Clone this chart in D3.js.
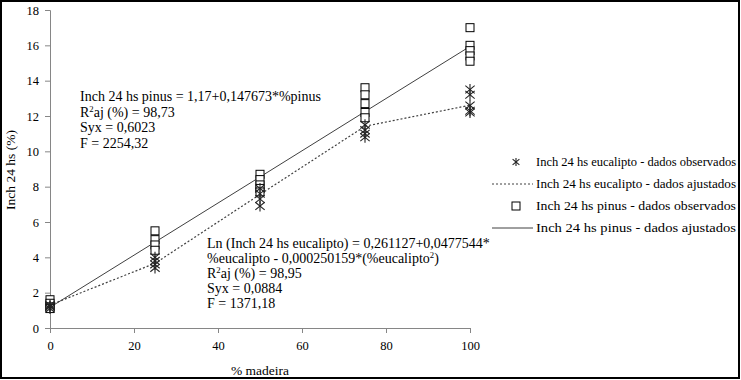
<!DOCTYPE html>
<html><head><meta charset="utf-8">
<script src="https://cdn.jsdelivr.net/npm/d3@7"></script>
<style>
body{margin:0;background:#fff;}
svg text{font-family:"Liberation Serif","DejaVu Serif",serif !important;}
</style></head>
<body><svg id="c" width="741" height="380"></svg>
<script>
const xLevels = [0, 25, 50, 75, 100];
const eucObs = [
  [1.3, 1.2, 1.1, 1.25],
  [4.0, 3.8, 3.6, 3.4],
  [7.9, 7.6, 7.3, 6.9],
  [11.5, 11.2, 10.8, 11.0],
  [13.5, 13.2, 12.6, 12.3, 12.2]
];
const pinObs = [
  [1.6, 1.4, 1.2, 1.1],
  [5.5, 5.0, 4.7, 4.4],
  [8.7, 8.4, 8.1, 7.9, 7.7],
  [13.6, 13.2, 12.7, 12.2, 11.9],
  [17.0, 16.0, 15.7, 15.4, 15.1]
];
const eucFit = [1.30, 3.66, 7.56, 11.42, 12.61];
const pinFit = [1.17, 4.86, 8.55, 12.25, 15.94];
const xTicks = [0, 20, 40, 60, 80, 100];
const yTicks = [0, 2, 4, 6, 8, 10, 12, 14, 16, 18];
const legendLabels = [
  "Inch 24 hs eucalipto - dados observados",
  "Inch 24 hs eucalipto - dados ajustados",
  "Inch 24 hs pinus - dados observados",
  "Inch 24 hs pinus - dados ajustados"
];

const svg = d3.select("#c");
svg.append("rect").attr("x",1).attr("y",1).attr("width",738).attr("height",377)
  .attr("fill","#fff").attr("stroke","#000").attr("stroke-width",2);

const x = d3.scaleLinear().domain([0,100]).range([50,470]);
const y = d3.scaleLinear().domain([0,18]).range([328,10]);
const axisColor = "#868686";

const gy = svg.append("g").attr("transform","translate(50,0)")
  .call(d3.axisLeft(y).tickValues(yTicks).tickSize(5).tickPadding(6));
const gx = svg.append("g").attr("transform","translate(0,328)")
  .call(d3.axisBottom(x).tickValues(xTicks).tickSize(5).tickPadding(8));
[gx, gy].forEach(g => {
  g.attr("font-family", null);
  g.selectAll("path,line").attr("stroke", axisColor);
  g.selectAll("text").attr("font-size", 12.5).attr("fill","#000");
});

svg.append("text").attr("x",260).attr("y",375).attr("text-anchor","middle")
  .attr("font-size",13.5).text("% madeira");
svg.append("text").attr("transform","translate(15,170) rotate(-90)")
  .attr("text-anchor","middle").attr("font-size",13.5).text("Inch 24 hs (%)");

const line = d3.line().x((d,i)=>x(xLevels[i])).y(d=>y(d));
svg.append("path").datum(pinFit).attr("d",line).attr("fill","none")
  .attr("stroke","#404040").attr("stroke-width",1);
svg.append("path").datum(eucFit).attr("d",line).attr("fill","none")
  .attr("stroke","#404040").attr("stroke-width",1.2).attr("stroke-dasharray","2,2");

function star(g, cx, cy, r){
  const s = g.append("g").attr("stroke","#222").attr("stroke-width",1.1);
  s.append("line").attr("x1",cx).attr("x2",cx).attr("y1",cy-r).attr("y2",cy+r);
  s.append("line").attr("x1",cx-r*0.85).attr("x2",cx+r*0.85).attr("y1",cy-r*0.7).attr("y2",cy+r*0.7);
  s.append("line").attr("x1",cx-r*0.85).attr("x2",cx+r*0.85).attr("y1",cy+r*0.7).attr("y2",cy-r*0.7);
}
function square(g, cx, cy, s){
  g.append("rect").attr("x",cx-s/2).attr("y",cy-s/2).attr("width",s).attr("height",s)
    .attr("fill","#fff").attr("stroke","#000").attr("stroke-width",1);
}
const pts = svg.append("g");
pinObs.forEach((arr,i)=>arr.forEach(v=>square(pts, x(xLevels[i]), y(v), 8)));
eucObs.forEach((arr,i)=>arr.forEach(v=>star(pts, x(xLevels[i]), y(v), 5.5)));

function multiline(x0, y0, dy, lines, fs){
  const t = svg.append("text").attr("font-size",fs).attr("fill","#000");
  lines.forEach((parts,i)=>{
    let afterSup = false;
    parts.forEach((p,j)=>{
      const sp = t.append("tspan");
      if (j===0) sp.attr("x",x0).attr("y",y0+i*dy);
      if (typeof p === "string") {
        sp.text(p);
        if (afterSup) sp.attr("dy",5);
        afterSup = false;
      } else {
        sp.text(p.sup).attr("font-size",fs*0.62).attr("dy",-5);
        afterSup = true;
      }
    });
  });
}
multiline(80, 101, 15.5, [
  ["Inch 24 hs pinus = 1,17+0,147673*%pinus"],
  ["R", {sup:"2"}, "aj (%) = 98,73"],
  ["Syx = 0,6023"],
  ["F = 2254,32"]
], 14);
multiline(207, 248, 15, [
  ["Ln (Inch 24 hs eucalipto) = 0,261127+0,0477544*"],
  ["%eucalipto - 0,000250159*(%eucalipto", {sup:"2"}, ")"],
  ["R", {sup:"2"}, "aj (%) = 98,95"],
  ["Syx = 0,0884"],
  ["F = 1371,18"]
], 14);

const leg = svg.append("g");
const ly = [162, 184, 206, 228];
legendLabels.forEach((lab,i)=>{
  leg.append("text").attr("x",536).attr("y",ly[i]+4).attr("font-size",12.5)
    .attr("textLength",200).attr("lengthAdjust","spacingAndGlyphs").text(lab);
});
star(leg, 516, ly[0], 4);
leg.append("line").attr("x1",492).attr("x2",533).attr("y1",ly[1]).attr("y2",ly[1])
  .attr("stroke","#404040").attr("stroke-dasharray","2,2");
square(leg, 516, ly[2], 8);
leg.append("line").attr("x1",492).attr("x2",533).attr("y1",ly[3]).attr("y2",ly[3])
  .attr("stroke","#404040");
</script></body></html>
